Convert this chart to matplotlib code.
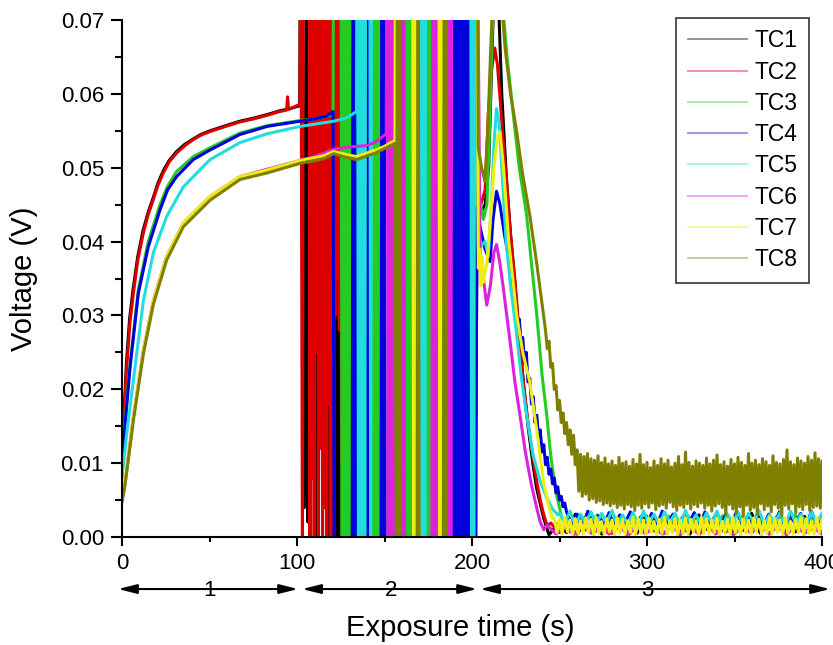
import numpy as np
import matplotlib
matplotlib.use("Agg")
import matplotlib.pyplot as plt
from matplotlib.lines import Line2D
from matplotlib.ticker import MultipleLocator, FormatStrFormatter

plt.rcParams['font.family'] = ['Liberation Sans', 'DejaVu Sans']

# ---------------- data (time s, voltage V) ----------------
labels = ["TC1", "TC2", "TC3", "TC4", "TC5", "TC6", "TC7", "TC8"]
colors = ["#000000", "#dd0000", "#22cc22", "#0000dd", "#22dddd", "#dd22dd", "#eeee11", "#808000"]

tc1_pts = [(0, 0.009), (0.8, 0.015), (2.5, 0.0235), (4.3, 0.0295), (6.3, 0.0335), (9, 0.038), (12, 0.0415),
           (15, 0.044), (17.9, 0.046), (20.5, 0.0479), (23.6, 0.0496), (27, 0.051), (31.2, 0.0522), (36, 0.0532),
           (40.7, 0.0539), (45, 0.0545), (50.3, 0.055), (58, 0.0556), (67.4, 0.0563), (75, 0.0567), (83, 0.0572),
           (90, 0.0577), (96, 0.058), (101.5, 0.0584),
           (102.3, 0.1), (104.2, 0.004), (105.5, 0.1), (106.3, 0.002), (106.9, 0.1), (111, -0.005), (113.5, 0.1),
           (114.8, 0.015), (116.5, 0.1), (118.2, -0.005), (119.5, 0.1), (121.5, 0.03), (122.3, 0.1),
           (122.9, -0.005), (123.5, 0.1), (124.1, -0.005), (124.7, 0.1), (125.3, -0.005),
           (201.5, -0.005),
           (203, 0.043), (205, 0.044), (207.5, 0.045), (209.5, 0.05), (211, 0.062), (212.5, 0.074), (214, 0.076),
           (215.5, 0.07), (217, 0.06), (219.8, 0.048), (222, 0.041), (224.6, 0.034), (227, 0.027), (229.3, 0.021),
           (232, 0.015), (235, 0.0095), (237, 0.0065), (239, 0.0045), (241, 0.0025), (243, 0.001)]
tc1_tail_start = 244
tc1_tail = [0.0003, 0.0018, 0.0006, 0.0031, 0.0009, 0.0016, 0.0004, 0.0024, 0.0011, 0.0019, 0.0005, 0.0029,
            0.0008, 0.0025, 0.0012, 0.0017, 0.0004, 0.0030, 0.0010, 0.0020, 0.0006, 0.0018, 0.0009, 0.0032,
            0.0005, 0.0021, 0.0011, 0.0016, 0.0007, 0.0028, 0.0009, 0.0019]

tc2_pts = [(0, 0.011), (0.8, 0.0145), (2.7, 0.023), (4.5, 0.029), (6.5, 0.033), (9, 0.0375), (12.2, 0.0412),
           (15, 0.0437), (17.9, 0.0457), (20.5, 0.0476), (23.6, 0.0493), (27, 0.0508), (31.2, 0.052), (36, 0.053),
           (40.7, 0.0538), (45, 0.0544), (50.3, 0.0549), (58, 0.0555), (67.4, 0.0562), (75, 0.0566), (83, 0.0571),
           (90, 0.0576), (94, 0.0578), (94.6, 0.0596), (95.2, 0.0579), (98, 0.0582), (101.7, 0.0586),
           (102, 0.1), (103.1, -0.005), (103.6, 0.1), (106.8, 0.1), (107.4, -0.005), (108, 0.1), (108.6, 0.008),
           (109.2, 0.1), (109.8, -0.005), (110.4, 0.1), (111, 0.025), (111.6, 0.1), (112.2, -0.005),
           (112.8, 0.1), (113.4, 0.012), (114, 0.1), (114.6, -0.005), (115.2, 0.1), (115.8, 0.004),
           (116.4, 0.1), (117, -0.005), (117.6, 0.1), (118.2, 0.018), (118.8, 0.1), (119.4, -0.005),
           (120, 0.1), (120.6, 0.006), (121.2, 0.1), (121.8, 0.03), (122.4, 0.1), (123, 0.035), (123.6, 0.1),
           (124.2, 0.028), (124.8, 0.1), (125.4, 0.01), (126, 0.1), (202.3, 0.1),
           (203, 0.044), (205, 0.045), (207.5, 0.047), (209.3, 0.0572), (211, 0.063), (213, 0.0662), (214.5, 0.064),
           (216, 0.0595), (218, 0.053), (219.8, 0.0481), (222, 0.041), (224.6, 0.0346), (227, 0.0275),
           (229.3, 0.021), (232, 0.0155), (235, 0.0105), (237, 0.0075), (239, 0.005), (241, 0.003), (243, 0.0015)]
tc2_tail_start = 245
tc2_tail = [0.0019, 0.0006, 0.0017, 0.0004, 0.0020, 0.0007, 0.0016, 0.0005, 0.0018, 0.0004,
            0.0021, 0.0006, 0.0017, 0.0005, 0.0019, 0.0007, 0.0016, 0.0004, 0.0020, 0.0006,
            0.0018, 0.0005, 0.0017, 0.0007, 0.0021, 0.0004, 0.0019, 0.0006, 0.0016, 0.0005,
            0.0018, 0.0006]

tc3_pts = [(0, 0.01), (1.3, 0.0145), (4.6, 0.0235), (9.3, 0.0335), (15, 0.04), (21.7, 0.045), (26, 0.0475),
           (31.2, 0.0495), (40.7, 0.0515), (50.3, 0.0527), (67.4, 0.0547), (83, 0.0557), (102, 0.0564),
           (110, 0.0566), (120.6, 0.0572),
           (121, 0.1), (125, 0.1), (125.8, -0.005), (126.6, 0.1), (127.4, -0.005), (128.2, 0.1), (129, -0.005),
           (129.8, 0.1), (130.6, -0.005), (131.4, 0.1), (143, 0.1), (143.8, -0.005), (144.6, 0.1), (145.4, -0.005),
           (146.2, 0.1), (147, -0.005), (147.8, 0.1), (162, 0.1), (162.8, -0.005), (163.6, 0.1), (164.4, -0.005),
           (165.2, 0.1), (166, -0.005), (166.8, 0.1), (173.5, 0.1), (174.3, -0.005), (175.1, 0.1), (175.9, -0.005),
           (176.7, 0.1), (199, 0.1), (199.6, -0.005), (200.2, 0.1), (202.6, 0.1),
           (203.5, 0.047), (204.6, 0.0454), (206.5, 0.043), (208.5, 0.045), (210, 0.055), (211.5, 0.068),
           (213, 0.076), (215, 0.078), (217.5, 0.072), (220, 0.065), (223.6, 0.0572), (227, 0.05), (231.2, 0.0436),
           (234, 0.037), (237, 0.0301), (240, 0.022), (242.7, 0.0165), (245, 0.011), (248, 0.006), (250, 0.004)]
tc3_tail_start = 251
tc3_tail = [0.0028, 0.0014, 0.0026, 0.0012, 0.0030, 0.0015, 0.0027, 0.0013, 0.0029, 0.0016,
            0.0025, 0.0012, 0.0028, 0.0014, 0.0030, 0.0013, 0.0026, 0.0015, 0.0029, 0.0012,
            0.0027, 0.0016, 0.0025, 0.0013, 0.0028, 0.0014, 0.0030, 0.0012, 0.0026, 0.0015]

tc4_pts = [(0, 0.009), (1.3, 0.014), (4.6, 0.023), (9.3, 0.033), (15, 0.0393), (21.7, 0.0443), (26, 0.047),
           (31.2, 0.0488), (40.7, 0.0511), (50.3, 0.0524), (67.4, 0.0545), (83, 0.0556), (102, 0.0563),
           (110, 0.0566), (117, 0.057), (120.6, 0.0576),
           (121.2, -0.005), (131.5, -0.005), (132.1, 0.1), (132.7, -0.005), (133.3, 0.1), (133.9, -0.005),
           (139, -0.005), (139.6, 0.1), (140.2, -0.005), (140.8, 0.1), (141.4, -0.005), (148, -0.005),
           (148.6, 0.1), (149.2, -0.005), (149.8, 0.1), (150.4, -0.005), (188, -0.005), (188.6, 0.1),
           (189.2, -0.005), (189.8, 0.1), (190.4, -0.005), (191, 0.1), (191.6, -0.005), (192.2, 0.1),
           (192.8, -0.005), (193.4, 0.1), (194, -0.005), (194.6, 0.1), (195.2, -0.005), (195.8, 0.1),
           (196.4, -0.005), (197, 0.1), (197.6, -0.005), (198.2, 0.1), (198.8, -0.005), (202.2, -0.005),
           (202.7, 0.0446), (204.6, 0.042), (207.4, 0.039), (210.3, 0.0373), (212, 0.043), (214, 0.0468),
           (216, 0.045), (218.5, 0.041), (221.7, 0.0369), (225, 0.031), (226, 0.028), (227, 0.0295),
           (228, 0.0265), (229, 0.027), (230, 0.0235), (231, 0.025), (232, 0.021), (233, 0.0215), (234, 0.018),
           (235, 0.019), (236, 0.0155), (237, 0.0165), (238, 0.0135), (239, 0.0145), (240, 0.0115),
           (241, 0.0125), (242, 0.0098), (243, 0.0108), (244, 0.0085), (245, 0.0092), (246, 0.0072),
           (247, 0.008), (248, 0.006), (249, 0.0068), (250, 0.005), (251, 0.0055), (252, 0.0041), (253, 0.0046)]
tc4_tail_start = 254
tc4_tail = [0.0034, 0.0017, 0.0031, 0.0015, 0.0035, 0.0018, 0.0029, 0.0016, 0.0033, 0.0014,
            0.0030, 0.0019, 0.0034, 0.0016, 0.0028, 0.0017, 0.0032, 0.0015, 0.0035, 0.0018,
            0.0031, 0.0016, 0.0029, 0.0019, 0.0033, 0.0014, 0.0034, 0.0017, 0.0030, 0.0015,
            0.0032, 0.0018, 0.0035, 0.0016, 0.0028, 0.0019, 0.0033, 0.0015, 0.0031, 0.0017,
            0.0034, 0.0016, 0.0029, 0.0018, 0.0032, 0.0014, 0.0035, 0.0017, 0.0030]

tc5_pts = [(0, 0.008), (2.7, 0.014), (7.4, 0.023), (12.2, 0.032), (17.9, 0.0385), (25.5, 0.0434), (35, 0.0474),
           (50.3, 0.0511), (67.4, 0.0534), (83, 0.0546), (102, 0.0556), (121, 0.0563), (128, 0.0567),
           (134, 0.0576),
           (134.5, 0.1), (135.1, -0.005), (135.7, 0.1), (136.3, -0.005), (136.9, 0.1), (137.5, -0.005),
           (138.1, 0.1), (138.7, -0.005), (139.3, 0.1), (141.5, 0.1), (142.1, -0.005), (142.7, 0.1),
           (170, 0.1), (170.6, -0.005), (171.2, 0.1), (171.8, -0.005), (172.4, 0.1), (173, -0.005),
           (173.6, 0.1), (199.2, 0.1), (199.8, -0.005), (200.4, 0.1), (201, -0.005), (201.6, 0.1),
           (203.6, 0.039), (205.5, 0.0395), (207.4, 0.04), (209.3, 0.038), (211, 0.045), (212.5, 0.053),
           (214, 0.058), (215.5, 0.056), (217.5, 0.048), (219.5, 0.04), (221.7, 0.0346), (225, 0.0285),
           (228, 0.022), (231.2, 0.0165), (235, 0.011), (239, 0.0075), (242.7, 0.0053), (246, 0.0038),
           (249, 0.003)]
tc5_tail_start = 250
tc5_tail = [0.0033, 0.0018, 0.0035, 0.0016, 0.0031, 0.0019, 0.0034, 0.0017, 0.0032, 0.0020,
            0.0036, 0.0016, 0.0030, 0.0018, 0.0033, 0.0015, 0.0035, 0.0019, 0.0031, 0.0017,
            0.0034, 0.0020, 0.0032, 0.0016, 0.0036, 0.0018, 0.0030, 0.0017, 0.0033, 0.0019,
            0.0035, 0.0015, 0.0031, 0.0018, 0.0034, 0.0016, 0.0032, 0.0020, 0.0036, 0.0017,
            0.0030, 0.0019, 0.0033, 0.0016, 0.0035, 0.0018, 0.0031, 0.0017, 0.0034, 0.0019,
            0.0032]

tc6_pts = [(0, 0.005), (1.7, 0.0073), (6.5, 0.0163), (12.2, 0.0253), (17.9, 0.032), (25.5, 0.038), (35, 0.0425),
           (50.3, 0.0461), (67.4, 0.0488), (83, 0.0498), (102, 0.051), (110, 0.0515), (121, 0.0525),
           (130, 0.0528), (140, 0.053), (145, 0.0535), (151, 0.0546),
           (151.5, 0.1), (152.1, -0.005), (152.7, 0.1), (153.3, -0.005), (153.9, 0.1), (154.5, -0.005),
           (155.1, 0.1), (155.7, -0.005), (156.3, 0.1), (158.5, 0.1),
           (159.1, -0.005), (159.7, 0.1), (160.3, -0.005), (160.9, 0.1), (161.5, -0.005), (177, -0.005),
           (177.6, 0.1), (178.2, -0.005), (178.8, 0.1), (179.4, -0.005), (180, 0.1), (180.6, -0.005),
           (185.5, -0.005), (186.1, 0.1), (186.7, -0.005), (187.3, 0.1), (187.9, -0.005), (188.5, 0.1),
           (202.5, 0.1),
           (204.6, 0.0382), (206.5, 0.035), (208.4, 0.0314), (210.5, 0.034), (212.5, 0.0385), (214, 0.0396),
           (216, 0.037), (218, 0.0335), (219.8, 0.0301), (222, 0.026), (224.5, 0.021), (227.4, 0.0165),
           (230.5, 0.0115), (234, 0.007), (237, 0.0039), (239, 0.002), (241, 0.001)]
tc6_tail_start = 243
tc6_tail = [0.0016, 0.0004, 0.0014, 0.0003, 0.0017, 0.0005, 0.0013, 0.0004, 0.0018, 0.0003,
            0.0015, 0.0005, 0.0012, 0.0004, 0.0016, 0.0003, 0.0014, 0.0005, 0.0017, 0.0004,
            0.0013, 0.0003, 0.0015, 0.0005, 0.0018, 0.0004, 0.0014, 0.0003, 0.0016, 0.0005,
            0.0013, 0.0004]

tc7_pts = [(0, 0.005), (1.7, 0.0073), (6.5, 0.0163), (12.2, 0.0253), (17.9, 0.032), (25.5, 0.038), (35, 0.0425),
           (50.3, 0.0461), (67.4, 0.0488), (83, 0.0497), (102, 0.051), (115, 0.0516), (121, 0.0522),
           (128, 0.0518), (134, 0.0515), (140, 0.052), (145, 0.0524), (150, 0.0529), (156, 0.0537),
           (156.4, 0.1), (157, -0.005), (157.6, 0.1), (158.2, 0.04), (158.8, 0.1), (166, 0.1), (166.6, -0.005),
           (167.2, 0.1), (167.8, -0.005), (168.4, 0.1), (181, 0.1), (181.6, -0.005), (182.2, 0.1),
           (182.8, -0.005), (183.4, 0.1), (202.8, 0.1),
           (203.6, 0.0364), (204.3, 0.039), (205, 0.034), (205.8, 0.038), (206.5, 0.0345), (207.5, 0.036),
           (208.5, 0.037), (210.5, 0.043), (212.5, 0.05), (214.5, 0.054), (216, 0.0549), (218, 0.05),
           (221, 0.04), (225.5, 0.0301), (229, 0.025), (233, 0.021), (237, 0.0145), (240.8, 0.0075),
           (244, 0.004), (246, 0.0025)]
tc7_tail_start = 247
tc7_tail = [0.0026, 0.0006, 0.0024, 0.0004, 0.0027, 0.0007, 0.0023, 0.0003, 0.0025, 0.0005,
            0.0022, 0.0004, 0.0026, 0.0006, 0.0024, 0.0003, 0.0027, 0.0005, 0.0021, 0.0004,
            0.0025, 0.0007, 0.0023, 0.0003, 0.0026, 0.0005, 0.0024, 0.0004, 0.0022, 0.0006,
            0.0027, 0.0003, 0.0025, 0.0005, 0.0023, 0.0004, 0.0026, 0.0006, 0.0021, 0.0003,
            0.0024, 0.0005, 0.0027, 0.0004, 0.0022, 0.0006, 0.0025, 0.0003, 0.0023, 0.0005,
            0.0026, 0.0004, 0.0024, 0.0007, 0.0022, 0.0003, 0.0027, 0.0005, 0.0025, 0.0004,
            0.0023, 0.0006, 0.0026, 0.0003, 0.0021, 0.0005, 0.0024, 0.0004, 0.0027, 0.0006,
            0.0022, 0.0003, 0.0025, 0.0005, 0.0023, 0.0004, 0.0026, 0.0007, 0.0024, 0.0003,
            0.0022, 0.0005, 0.0027, 0.0004, 0.0025, 0.0006, 0.0023, 0.0003, 0.0026, 0.0005,
            0.0021, 0.0004, 0.0024, 0.0006, 0.0027, 0.0003, 0.0025, 0.0005, 0.0022, 0.0004,
            0.0026, 0.0006, 0.0024]

tc8_pts = [(0, 0.0048), (1.7, 0.007), (6.5, 0.0158), (12.2, 0.0248), (17.9, 0.0315), (25.5, 0.0375), (35, 0.042),
           (50.3, 0.0456), (67.4, 0.0484), (83, 0.0493), (102, 0.0506), (115, 0.0512), (121, 0.0519),
           (128, 0.0514), (134, 0.0511), (140, 0.0516), (145, 0.052), (150, 0.0526), (156, 0.0533),
           (156.8, -0.005), (157.4, 0.1), (158, -0.005), (158.6, 0.1), (159.2, -0.005), (168.6, -0.005),
           (169.2, 0.1), (169.8, -0.005), (183.6, -0.005), (184.2, 0.1), (184.8, -0.005), (185.4, 0.1),
           (202.8, 0.1),
           (203.6, 0.0527), (205.5, 0.05), (207.4, 0.0481), (209, 0.055), (210.5, 0.065), (212, 0.074),
           (214, 0.078), (216, 0.075), (218.9, 0.0662), (222, 0.06), (225.5, 0.0549), (229, 0.049),
           (233, 0.0436), (237, 0.037), (240.8, 0.0301), (242, 0.028), (243, 0.0255), (244, 0.0265),
           (245, 0.023), (246, 0.0235), (247, 0.02), (248, 0.0205), (249, 0.0172), (250, 0.0185),
           (251, 0.0155), (252, 0.0168), (253, 0.014), (254, 0.0155), (255, 0.0125), (256, 0.0145),
           (257, 0.0112), (258, 0.0138), (259, 0.0098)]
tc8_tail_start = 260
tc8_tail = [0.0118, 0.0062, 0.0112, 0.0055, 0.0109, 0.0058, 0.0113, 0.0050, 0.0106, 0.0052,
            0.0104, 0.0047, 0.0110, 0.0049, 0.0101, 0.0044, 0.0107, 0.0046, 0.0099, 0.0042,
            0.0103, 0.0045, 0.0097, 0.0040, 0.0108, 0.0043, 0.0100, 0.0038, 0.0102, 0.0044,
            0.0096, 0.0041, 0.0105, 0.0036, 0.0099, 0.0043, 0.0112, 0.0039, 0.0098, 0.0045,
            0.0101, 0.0040, 0.0094, 0.0046, 0.0103, 0.0037, 0.0097, 0.0042, 0.0106, 0.0044,
            0.0099, 0.0039, 0.0104, 0.0047, 0.0095, 0.0041, 0.0100, 0.0036, 0.0109, 0.0043,
            0.0098, 0.0040, 0.0115, 0.0045, 0.0101, 0.0038, 0.0096, 0.0044, 0.0103, 0.0041,
            0.0100, 0.0046, 0.0097, 0.0039, 0.0107, 0.0043, 0.0099, 0.0035, 0.0104, 0.0042,
            0.0111, 0.0045, 0.0098, 0.0040, 0.0102, 0.0030, 0.0096, 0.0044, 0.0105, 0.0038,
            0.0099, 0.0032, 0.0108, 0.0041, 0.0101, 0.0028, 0.0097, 0.0043, 0.0113, 0.0036,
            0.0100, 0.0040, 0.0104, 0.0031, 0.0098, 0.0045, 0.0106, 0.0037, 0.0102, 0.0042,
            0.0097, 0.0034, 0.0110, 0.0044, 0.0101, 0.0039, 0.0099, 0.0029, 0.0105, 0.0043,
            0.0118, 0.0038, 0.0102, 0.0045, 0.0098, 0.0033, 0.0107, 0.0041, 0.0103, 0.0037,
            0.0100, 0.0044, 0.0109, 0.0036, 0.0104, 0.0040, 0.0114, 0.0042, 0.0106, 0.0039,
            0.0103]

all_pts = [tc1_pts, tc2_pts, tc3_pts, tc4_pts, tc5_pts, tc6_pts, tc7_pts, tc8_pts]
tail_starts = [tc1_tail_start, tc2_tail_start, tc3_tail_start, tc4_tail_start,
               tc5_tail_start, tc6_tail_start, tc7_tail_start, tc8_tail_start]
tails = [tc1_tail, tc2_tail, tc3_tail, tc4_tail, tc5_tail, tc6_tail, tc7_tail, tc8_tail]

phase_labels = ["1", "2", "3"]
phase_spans = [(-2.3, 100.6), (102.9, 202.9), (204.6, 404.6)]
phase_label_x = [50, 154, 300]

# ---------------- figure ----------------
fig = plt.figure(figsize=(8.33, 6.45), dpi=100)
ax = fig.add_axes([0.1465, 0.1674, 0.8403, 0.8016])

for pts, ts, tail, col in zip(all_pts, tail_starts, tails, colors):
    t = [p[0] for p in pts] + list(np.linspace(ts, 400, len(tail)))
    v = [p[1] for p in pts] + list(tail)
    ax.plot(t, v, color=col, lw=2.2)

ax.set_xlim(0, 400)
ax.set_ylim(0, 0.07)
for s in ["top", "right"]:
    ax.spines[s].set_visible(False)
for s in ["left", "bottom"]:
    ax.spines[s].set_linewidth(1.5)

ax.xaxis.set_major_locator(MultipleLocator(100))
ax.xaxis.set_minor_locator(MultipleLocator(50))
ax.yaxis.set_major_locator(MultipleLocator(0.01))
ax.yaxis.set_minor_locator(MultipleLocator(0.005))
ax.yaxis.set_major_formatter(FormatStrFormatter('%.2f'))
ax.tick_params(axis='y', which='major', length=8, width=1.5, labelsize=16, pad=5)
ax.tick_params(axis='y', which='minor', length=5, width=1.5)
ax.tick_params(axis='x', which='major', length=6.5, width=1.5, labelsize=16, pad=5)
ax.tick_params(axis='x', which='minor', length=3.5, width=1.5)

ax.set_ylabel("Voltage (V)", fontsize=21)
ax.yaxis.set_label_coords(-0.12, 0.5)
ax.set_xlabel("Exposure time (s)", fontsize=21)
ax.xaxis.set_label_coords(0.483, -0.149)

tr = ax.get_xaxis_transform()
for (a, b), lab, lx in zip(phase_spans, phase_labels, phase_label_x):
    ax.annotate('', xy=(b, -0.1006), xytext=(a, -0.1006), xycoords=tr, textcoords=tr,
                annotation_clip=False,
                arrowprops=dict(arrowstyle='<|-|>,head_length=0.8,head_width=0.2', color='black',
                                lw=1.5, mutation_scale=14, shrinkA=0, shrinkB=0))
    ax.text(lx, -0.1025, lab, transform=tr, ha='center', va='center', fontsize=16, clip_on=False)

handles = [Line2D([], [], color=c, lw=1.3, alpha=0.45) for c in colors]
leg = ax.legend(handles, labels, loc='upper right', bbox_to_anchor=(0.981, 1.004), borderaxespad=0,
                fontsize=16.5, frameon=True, fancybox=False, framealpha=1, edgecolor='#333333',
                handlelength=2.6, handletextpad=0.3, labelspacing=0.36, borderpad=0.5)
leg.get_frame().set_linewidth(1.2)

fig.savefig("out.png", dpi=100)
